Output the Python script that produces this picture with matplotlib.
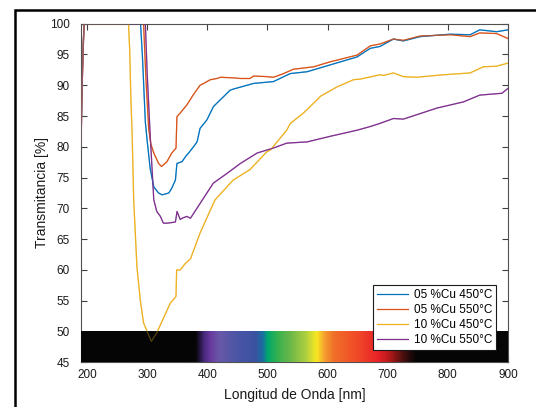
import numpy as np
import matplotlib
matplotlib.use("Agg")
import matplotlib.pyplot as plt
from matplotlib.colors import LinearSegmentedColormap
from matplotlib.patches import Rectangle

plt.rcParams['font.family'] = ['Liberation Sans', 'DejaVu Sans']

# ---- data (wavelength nm, transmittance %) ----
wl_b = [190, 192, 195, 289, 292, 297, 300, 305, 311, 319, 325, 336, 341, 347, 349.5, 358, 366, 369,
        377, 383, 388, 399.5, 410, 416, 438, 444, 477, 499, 510, 538, 566, 604, 649, 671, 687, 709.5,
        726, 754, 804, 837, 853, 881, 900]
t_b = [80, 92, 100, 100, 95, 84, 81, 76.5, 73.5, 72.5, 72.2, 72.5, 73.3, 74.6, 77.3, 77.6, 78.7, 79,
       80, 80.8, 83, 84.4, 86.5, 87.1, 89.2, 89.4, 90.3, 90.5, 90.6, 91.9, 92.2, 93.3, 94.6, 96.0, 96.3, 97.5,
       97.2, 97.9, 98.3, 98.2, 99.0, 98.7, 99.0]

wl_r = [190, 192, 195, 294, 298, 302.5, 306, 311, 319, 324, 333, 341, 348, 349.5, 355, 366, 377, 388,
        394, 405, 416, 422, 444, 455, 471, 477, 499, 510, 527, 543, 577, 604, 649, 671, 687, 709.5,
        726, 754, 804, 837, 853, 881, 900]
t_r = [84, 92, 100, 100, 91, 83, 80.5, 79, 77.3, 76.8, 77.6, 79, 79.8, 84.9, 85.5, 86.8, 88.5, 90,
       90.3, 90.9, 91.1, 91.3, 91.2, 91.1, 91.1, 91.5, 91.4, 91.3, 91.9, 92.6, 93.0, 93.8, 94.9, 96.4, 96.7, 97.5,
       97.3, 98.0, 98.2, 97.9, 98.5, 98.4, 97.6]

wl_y = [190, 192, 195, 269, 271, 273, 275, 277.6, 283, 288.7, 294, 307, 316, 338.5, 348, 349, 355, 363,
        372, 388, 405, 413, 443, 471, 499, 505, 532, 538, 560, 582, 588, 615, 643, 654, 687, 693,
        709.5, 726, 748, 792, 837, 859, 881, 900]
t_y = [80, 90, 100, 100, 95.7, 87.6, 82.2, 71.4, 60.5, 55, 51.4, 48.4, 49.8, 54.6, 55.7, 60, 60, 61,
       61.8, 66, 69.7, 71.4, 74.6, 76.3, 79.2, 79.5, 82.7, 83.8, 85.5, 87.6, 88.2, 89.7, 90.9, 91.0, 91.7, 91.6,
       92.0, 91.4, 91.3, 91.7, 92.0, 93.0, 93.1, 93.6]

wl_p = [190, 192, 195, 297, 300, 305, 311, 316, 322, 327, 333, 341, 347, 349.7, 355, 358, 366, 372,
        388, 410, 433, 444, 455, 483, 510, 532, 566, 604, 649, 671, 687, 709.5, 726, 782, 826, 853,
        890, 900]
t_p = [80, 90, 100, 100, 92, 82, 71.4, 69.5, 68.7, 67.6, 67.6, 67.7, 67.8, 69.5, 68.2, 68.4, 68.7, 68.4,
       70.8, 74.1, 75.7, 76.5, 77.3, 79.0, 79.8, 80.6, 80.8, 81.7, 82.7, 83.3, 83.8, 84.6, 84.5, 86.3, 87.3, 88.4,
       88.7, 89.5]

labels = ['05 %Cu 450°C', '05 %Cu 550°C', '10 %Cu 450°C', '10 %Cu 550°C']
colors = ['#0072BD', '#D95319', '#EDB120', '#7E2F8E']

xticks = [200, 300, 400, 500, 600, 700, 800, 900]
yticks = [45, 50, 55, 60, 65, 70, 75, 80, 85, 90, 95, 100]

# visible-spectrum colour stops (wavelength, colour)
spec_wl = [190, 380, 395, 405, 420, 450, 480, 492, 500, 515, 540, 565, 582, 595, 610, 650, 685, 705, 725, 748, 900]
spec_col = ['#050505', '#050505', '#4a2a80', '#6a3aa0', '#6858a8', '#4a55a5', '#3a52a0', '#1a70a0', '#00a870',
            '#30b050', '#70b848', '#b0d040', '#f8e820', '#f5a030', '#f07028', '#f04a28', '#e82228', '#b01818',
            '#501010', '#050505', '#050505']

# ---- figure ----
fig = plt.figure(figsize=(5.36, 4.07), dpi=100)
ax = fig.add_axes([81 / 536, 1 - 362.3 / 407, (508 - 81) / 536, (362.3 - 23.7) / 407])

series = [(wl_b, t_b), (wl_r, t_r), (wl_y, t_y), (wl_p, t_p)]
for (w, t), c, lab in zip(series, colors, labels):
    ax.plot(w, t, color=c, lw=0.9, label=lab, zorder=2)

# spectrum bar
lo, hi = spec_wl[0], spec_wl[-1]
cmap = LinearSegmentedColormap.from_list(
    'spec', [((w - lo) / (hi - lo), c) for w, c in zip(spec_wl, spec_col)])
grad = np.linspace(lo, hi, 800)[None, :]
ax.imshow(grad, cmap=cmap, vmin=lo, vmax=hi, extent=(lo, hi, 45, 50),
          aspect='auto', interpolation='bilinear', alpha=1.0, zorder=3)

# faint overlay so curve parts inside the bar show through dimmed
for (w, t), c in zip(series, colors):
    ax.plot(w, t, color=c, lw=0.9, alpha=0.35, zorder=4)

ax.set_xlim(190, 900)
ax.set_ylim(45, 100)
ax.set_xticks(xticks)
ax.set_yticks(yticks)
ax.tick_params(direction='in', length=4, width=0.8, top=True, right=True,
               labelsize=8.5, colors='#404040', labelcolor='#1a1a1a')
ax.tick_params(axis='y', pad=8)
ax.tick_params(axis='x', pad=5)
for s in ax.spines.values():
    s.set_color('#505050')
    s.set_linewidth(0.8)

ax.set_xlabel('Longitud de Onda [nm]', fontsize=10, color='#1a1a1a', labelpad=5)
ax.set_ylabel('Transmitancia [%]', fontsize=10, color='#1a1a1a', labelpad=1)

leg = ax.legend(loc='lower right', bbox_to_anchor=(0.972, 0.036), fontsize=8.5,
                frameon=True, fancybox=False, framealpha=1, edgecolor='#1a1a1a',
                handlelength=2.6, handletextpad=0.5, borderpad=0.35, labelspacing=0.25,
                borderaxespad=0)
leg.get_frame().set_linewidth(0.8)
leg.set_zorder(5)

# outer black frame (figure cropped from a larger page)
fig.patches.append(Rectangle((15 / 536, -0.2), 1.2, 1.2 - 9.5 / 407,
                             transform=fig.transFigure, fill=False,
                             edgecolor='black', lw=1.8, zorder=10))

fig.savefig('out.png', dpi=100)
